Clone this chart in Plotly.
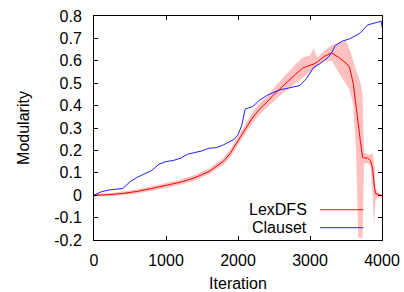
import plotly.graph_objects as go

# LexDFS mean and band (lower/upper)
lex_x = [0, 200, 400, 600, 800, 1000, 1200, 1400, 1600, 1800, 1900, 2000, 2100, 2200, 2300,
         2400, 2500, 2600, 2700, 2800, 2900, 3000, 3050, 3100, 3200, 3300, 3400, 3500, 3550,
         3600, 3640, 3670, 3700, 3730, 3750, 3800, 3840, 3870, 3890, 3910, 3950, 4000]
lex_mean = [0, 0.002, 0.008, 0.017, 0.03, 0.043, 0.058, 0.078, 0.106, 0.152, 0.19, 0.243, 0.295, 0.345, 0.385,
            0.415, 0.45, 0.482, 0.51, 0.54, 0.568, 0.58, 0.585, 0.595, 0.62, 0.635, 0.615, 0.59, 0.57,
            0.5, 0.41, 0.32, 0.24, 0.17, 0.166, 0.165, 0.155, 0.12, 0.05, 0.008, 0.003, -0.003]
lex_lo = [-0.006, -0.005, 0.0, 0.008, 0.02, 0.033, 0.047, 0.066, 0.093, 0.137, 0.172, 0.225, 0.275, 0.322, 0.36,
          0.39, 0.42, 0.45, 0.475, 0.5, 0.525, 0.55, 0.56, 0.575, 0.6, 0.6, 0.55, 0.5, 0.47,
          0.4, 0.2, -0.19, -0.19, -0.19, 0.14, 0.145, 0.13, 0.0, -0.14, -0.02, -0.005, -0.008]
lex_hi = [0.006, 0.009, 0.016, 0.026, 0.04, 0.053, 0.069, 0.09, 0.119, 0.167, 0.208, 0.262, 0.315, 0.368, 0.41,
          0.44, 0.48, 0.515, 0.55, 0.585, 0.615, 0.625, 0.655, 0.615, 0.645, 0.67, 0.68, 0.69, 0.65,
          0.6, 0.55, 0.52, 0.5, 0.45, 0.19, 0.185, 0.18, 0.19, 0.15, 0.03, 0.01, 0.002]

# Clauset
cl_x = [0, 100, 200, 300, 400, 500, 600, 700, 800, 900, 1000, 1100, 1200, 1300, 1400, 1500, 1600,
        1700, 1800, 1900, 1950, 2000, 2050, 2100, 2200, 2300, 2400, 2500, 2600, 2700, 2800, 2860,
        2950, 3050, 3150, 3250, 3300, 3350, 3450, 3550, 3650, 3700, 3800, 3900, 3990, 4000]
cl_y = [0, 0.015, 0.023, 0.027, 0.03, 0.06, 0.08, 0.095, 0.11, 0.138, 0.15, 0.155, 0.165, 0.183, 0.19, 0.198, 0.21,
        0.212, 0.225, 0.24, 0.25, 0.27, 0.31, 0.385, 0.395, 0.424, 0.445, 0.46, 0.472, 0.478, 0.485, 0.49,
        0.52, 0.57, 0.59, 0.615, 0.635, 0.668, 0.688, 0.698, 0.715, 0.725, 0.76, 0.77, 0.777, 0.75]

x_ticks = [0, 1000, 2000, 3000, 4000]
y_ticks = [-0.2, -0.1, 0, 0.1, 0.2, 0.3, 0.4, 0.5, 0.6, 0.7, 0.8]
y_ticktext = ["-0.2", "-0.1", "0", "0.1", "0.2", "0.3", "0.4", "0.5", "0.6", "0.7", "0.8"]

RED = "#ff0000"
BLUE = "#2020ff"
BAND = "#ffc0c0"
FONT = "Liberation Sans"

fig = go.Figure()
fig.add_trace(go.Scatter(x=lex_x, y=lex_lo, mode="lines", line=dict(width=0), showlegend=False, hoverinfo="skip"))
fig.add_trace(go.Scatter(x=lex_x, y=lex_hi, mode="lines", line=dict(width=0), fill="tonexty",
                         fillcolor=BAND, showlegend=False, hoverinfo="skip"))
fig.add_trace(go.Scatter(x=lex_x, y=lex_mean, mode="lines", line=dict(color=RED, width=1), name="LexDFS", showlegend=False))
fig.add_trace(go.Scatter(x=cl_x, y=cl_y, mode="lines", line=dict(color=BLUE, width=1), name="Clauset", showlegend=False))

# manual gnuplot-style legend (text left, line sample right)
legend_items = [("LexDFS", RED), ("Clauset", BLUE)]
leg_y = [0.135, 0.055]
for (name, col), ly in zip(legend_items, leg_y):
    fig.add_annotation(x=0.745, y=ly, xref="paper", yref="paper", text=name, showarrow=False,
                       xanchor="right", yanchor="middle", font=dict(family=FONT, size=16, color="black"))
    fig.add_shape(type="line", xref="paper", yref="paper", x0=0.785, x1=0.935, y0=ly, y1=ly,
                  line=dict(color=col, width=1))

axis_common = dict(showline=True, linecolor="black", linewidth=1, mirror="ticks", ticks="inside",
                   ticklen=4, tickcolor="black", showgrid=False, zeroline=False, automargin=False,
                   tickfont=dict(family=FONT, size=16, color="black"))

fig.update_xaxes(range=[0, 4000], tickvals=x_ticks, ticktext=[str(v) for v in x_ticks],
                 ticklabelstandoff=6,
                 title=dict(text="Iteration", font=dict(family=FONT, size=16, color="black"), standoff=10),
                 **axis_common)
fig.update_yaxes(range=[-0.2, 0.8], tickvals=y_ticks, ticktext=y_ticktext,
                 ticklabelstandoff=8,
                 title=dict(text="Modularity", font=dict(family=FONT, size=16, color="black"), standoff=20),
                 **axis_common)

fig.update_layout(width=404, height=292, margin=dict(l=94, r=22, t=16, b=52),
                  plot_bgcolor="white", paper_bgcolor="white",
                  font=dict(family=FONT, size=16, color="black"))

fig.write_html("out.html", config={"displayModeBar": False, "staticPlot": True},
               post_script="document.body.style.margin='0';")
